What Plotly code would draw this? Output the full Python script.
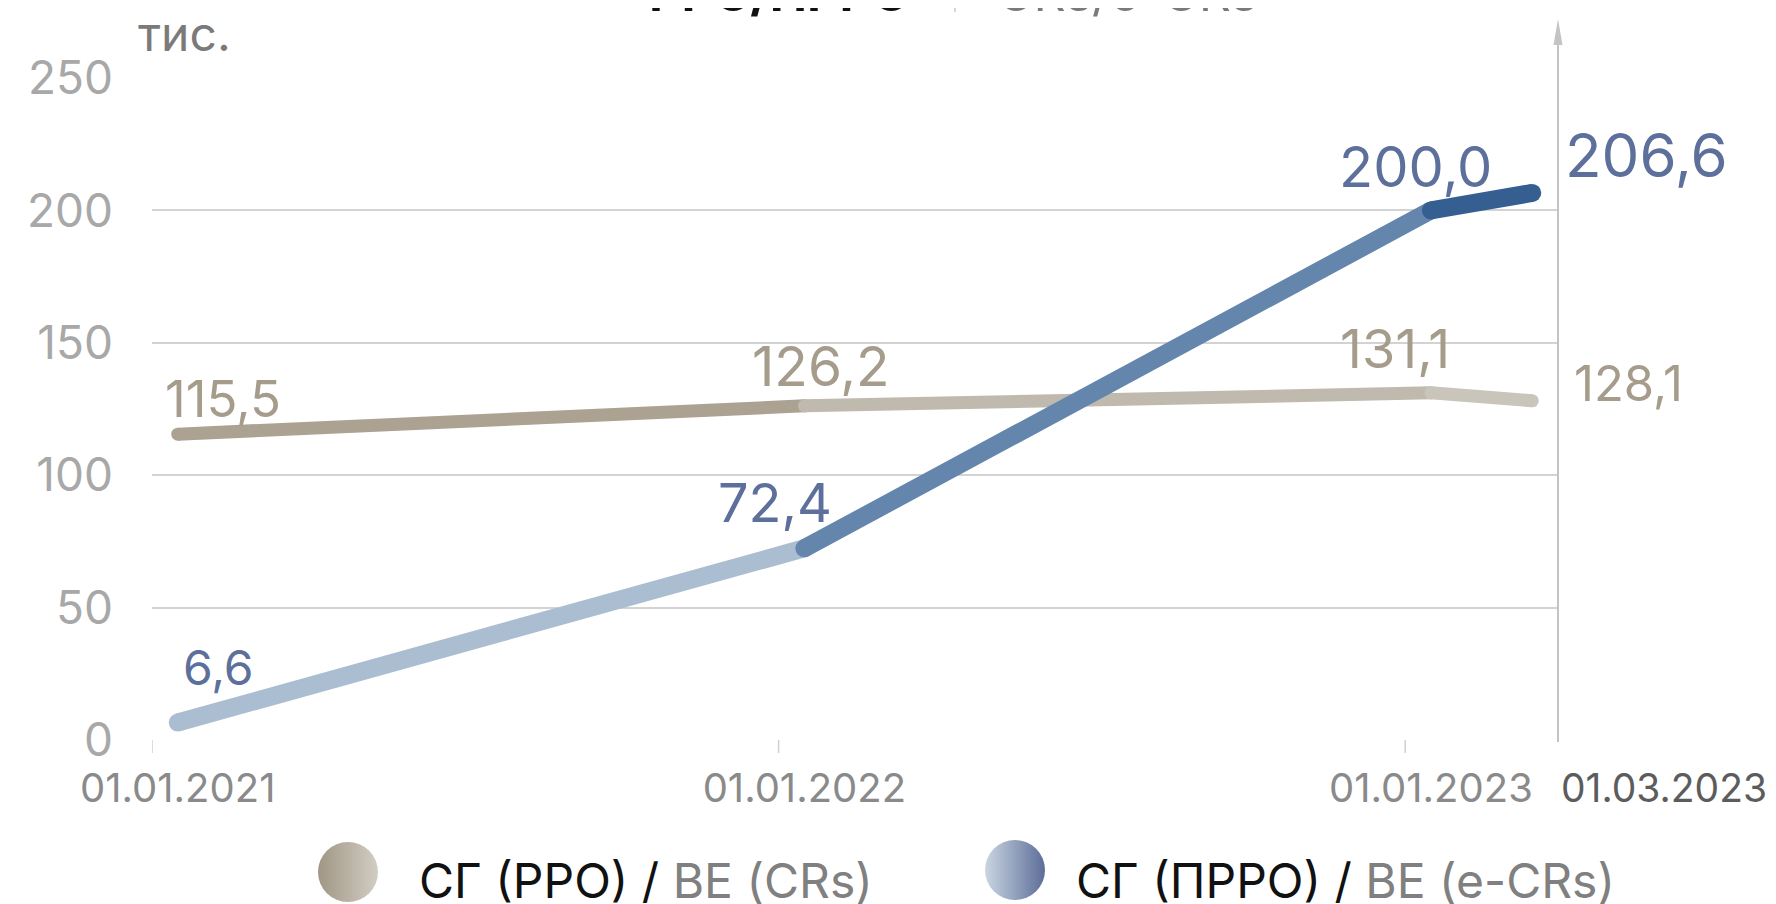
import plotly.graph_objects as go
from datetime import datetime, timedelta

W, H = 1776, 904

# ---------------- data ----------------
dates = ["2021-01-01", "2022-01-01", "2023-01-01", "2023-03-01"]
date_labels = ["01.01.2021", "01.01.2022", "01.01.2023", "01.03.2023"]
rro_values = [115.5, 126.2, 131.1, 128.1]    # СГ (РРО) / BE (CRs)
prro_values = [6.6, 72.4, 200.0, 206.6]      # СГ (ПРРО) / BE (e-CRs)
y_ticks = [0, 50, 100, 150, 200, 250]
unit_label = "тис."
rro_name = ("СГ (РРО) / ", "BE (CRs)")
prro_name = ("СГ (ПРРО) / ", "BE (e-CRs)")
title_left = "РРО/ПРРО"
title_right = "CRs/e-CRs"


def fmt(v):
    return f"{v:.1f}".replace(".", ",")


# ---------------- styles ----------------
FONT = "Inter, 'Noto Sans', sans-serif"
BEIGE_TXT = "#a59c8b"
BLUE_TXT = "#5d6f9b"
rro_seg_colors = ["#aba291", "#c0b9ad", "#cac5bb"]
prro_seg_colors = ["#abbdd0", "#6486ad", "#355e91"]
RRO_W, PRRO_W = 13, 18

# label placement: (xanchor, xshift, yshift, font size)
rro_label_pos = [("left", -15, 36, 51), ("center", 17, 40, 55),
                 ("center", -36, 44, 54), ("left", 40, 17, 49)]
prro_label_pos = [("left", 3, 55, 48), ("center", -29, 46, 54),
                  ("center", -15, 43, 56), ("left", 31, 38, 60)]

# the page body adds an 8px offset; lay out in screen pixels and compensate
OFF = 8
X0, X1 = 152, 1558      # plot area in screen pixels
YB, YT = 740, 78


def px(x):
    return (x - OFF) / W


def py(y):
    return 1 - (y - OFF) / H


fig = go.Figure()


def add_series(values, seg_colors, width):
    for i in range(len(values) - 1):
        fig.add_trace(go.Scatter(
            x=dates[i:i + 2], y=values[i:i + 2], mode="lines+markers",
            line=dict(color=seg_colors[i], width=width),
            marker=dict(color=seg_colors[i], size=width, line=dict(width=0)),
            cliponaxis=False, hoverinfo="skip", showlegend=False))


add_series(rro_values, rro_seg_colors, RRO_W)
add_series(prro_values, prro_seg_colors, PRRO_W)

annotations = []
for vals, pos, col in ((rro_values, rro_label_pos, BEIGE_TXT),
                       (prro_values, prro_label_pos, BLUE_TXT)):
    for d, v, (xa, xs, ys, fs) in zip(dates, vals, pos):
        annotations.append(dict(
            x=d, y=v, xref="x", yref="y", text=fmt(v), showarrow=False,
            xanchor=xa, yanchor="middle", xshift=xs, yshift=ys,
            font=dict(family=FONT, size=fs, color=col)))

# last date label (placed right of the axis)
annotations.append(dict(
    x=px(1559), y=py(787), xref="paper", yref="paper", text=date_labels[3],
    showarrow=False, xanchor="left", yanchor="middle",
    font=dict(family=FONT, size=39, color="#5c5c5c")))

# unit label
annotations.append(dict(
    x=px(136), y=py(34), xref="paper", yref="paper", text=unit_label,
    showarrow=False, xanchor="left", yanchor="middle",
    font=dict(family=FONT, size=48, color="#7a7a7a")))

# cropped title at the very top
annotations.append(dict(
    x=px(912), y=py(25), xref="paper", yref="paper",
    text="<b>" + title_left + "</b>", showarrow=False,
    xanchor="right", yanchor="bottom",
    font=dict(family=FONT, size=50, color="#111111")))
annotations.append(dict(
    x=px(995), y=py(25), xref="paper", yref="paper",
    text=title_right, showarrow=False, xanchor="left", yanchor="bottom",
    font=dict(family=FONT, size=50, color="#7a7a7a")))

# legend texts
for (blk, gry), xl in ((rro_name, 417), (prro_name, 1074)):
    annotations.append(dict(
        x=px(xl), y=py(880), xref="paper", yref="paper",
        text=f"<span style='color:#111111'>{blk}</span>"
             f"<span style='color:#808080'>{gry}</span>",
        showarrow=False, xanchor="left", yanchor="middle",
        font=dict(family=FONT, size=48)))

# legend gradient circles on a full-figure overlay axis pair
fig.add_trace(go.Scatter(
    x=[348], y=[872], xaxis="x2", yaxis="y2", mode="markers",
    marker=dict(size=60, color="#a09684", line=dict(width=0),
                gradient=dict(type="horizontal", color="#d2cdc4")),
    hoverinfo="skip", showlegend=False, cliponaxis=False))
fig.add_trace(go.Scatter(
    x=[1015], y=[870], xaxis="x2", yaxis="y2", mode="markers",
    marker=dict(size=60, color="#cad6e2", line=dict(width=0),
                gradient=dict(type="horizontal", color="#5c6d98")),
    hoverinfo="skip", showlegend=False, cliponaxis=False))

shapes = []
# x tick marks (half a month before each date)
for d in dates[:3]:
    td = (datetime.fromisoformat(d) - timedelta(days=15)).strftime("%Y-%m-%d")
    shapes.append(dict(type="line", xref="x", yref="paper", x0=td, x1=td,
                       y0=py(YB), y1=py(YB + 13),
                       line=dict(color="#d0d0d0", width=1.5)))
# right vertical axis with arrow
shapes.append(dict(type="line", xref="paper", yref="paper",
                   x0=px(X1), x1=px(X1), y0=py(YB + 2), y1=py(42),
                   line=dict(color="#c4c4c4", width=2)))
shapes.append(dict(type="path", xref="paper", yref="paper",
                   path=f"M {px(X1)},{py(19)} L {px(X1 - 4.5)},{py(45)} "
                        f"L {px(X1 + 4.5)},{py(45)} Z",
                   fillcolor="#c4c4c4", line=dict(width=0)))
# small bar in the cropped title
shapes.append(dict(type="line", xref="paper", yref="paper",
                   x0=px(955), x1=px(955), y0=py(0), y1=py(12),
                   line=dict(color="#b0b0b0", width=1)))

fig.update_layout(
    width=W, height=H,
    margin=dict(l=0, r=0, t=0, b=0, autoexpand=False),
    paper_bgcolor="white", plot_bgcolor="rgba(0,0,0,0)",
    showlegend=False,
    xaxis=dict(type="date", domain=[px(X0), px(X1)],
               range=["2020-12-17", "2023-03-16"],
               tickvals=dates[:3], ticktext=date_labels[:3],
               ticks="", showgrid=False, zeroline=False, showline=False,
               ticklabelstandoff=21, automargin=False,
               tickfont=dict(family=FONT, size=40, color="#8a8a8a")),
    yaxis=dict(domain=[py(YB), py(YT)], range=[0, 250],
               tickvals=y_ticks, ticktext=[str(t) for t in y_ticks],
               showgrid=True, gridcolor="#d3d3d3", gridwidth=1.5,
               zeroline=False, showline=False, ticks="",
               ticklabelstandoff=38, automargin=False,
               tickfont=dict(family=FONT, size=46, color="#a8a8a8")),
    xaxis2=dict(domain=[0, 1], range=[OFF, W + OFF], visible=False,
                anchor="y2", automargin=False),
    yaxis2=dict(domain=[0, 1], range=[H + OFF, OFF], visible=False,
                anchor="x2", automargin=False),
    annotations=annotations,
    shapes=shapes,
)

fig.write_html("out.html")
